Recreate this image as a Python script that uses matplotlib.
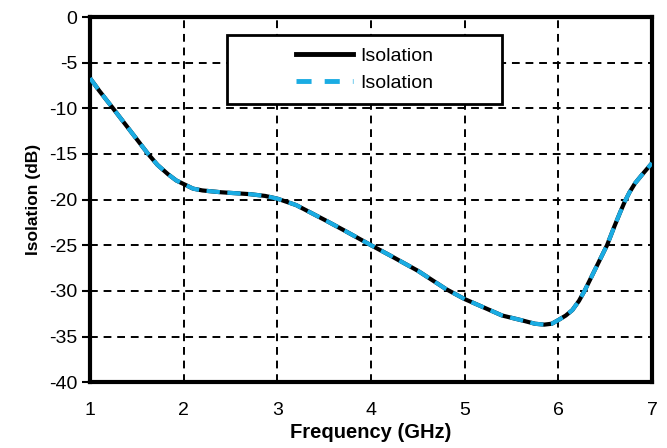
import matplotlib
matplotlib.use("Agg")
import matplotlib.pyplot as plt
from matplotlib.patches import Rectangle
from matplotlib.lines import Line2D

freq = [1.0, 1.1, 1.245, 1.44, 1.62, 1.72, 1.83, 1.92, 2.0, 2.1, 2.2, 2.4, 2.55, 2.7, 2.87, 3.0, 3.2,
        3.5, 3.7, 4.0, 4.2, 4.5, 4.8, 5.0, 5.2, 5.4, 5.6, 5.75, 5.85, 5.93, 6.0, 6.08,
        6.15, 6.22, 6.28, 6.4, 6.52, 6.6, 6.66, 6.71, 6.76, 6.82, 6.9, 7.0]
isolation = [-6.7, -8.1, -10.0, -12.6, -15.0, -16.2, -17.2, -17.9, -18.3, -18.8, -19.0, -19.2, -19.3, -19.4, -19.6, -19.9, -20.6,
             -22.2, -23.3, -25.0, -26.1, -27.8, -29.8, -30.9, -31.8, -32.7, -33.2, -33.6, -33.7, -33.6, -33.2, -32.7,
             -32.1, -31.1, -30.0, -27.5, -25.0, -22.9, -21.4, -20.2, -19.2, -18.2, -17.2, -16.0]
labels = ['Isolation', 'Isolation']
xticks = [1, 2, 3, 4, 5, 6, 7]
yticks = [0, -5, -10, -15, -20, -25, -30, -35, -40]

plt.rcParams['font.family'] = ['Liberation Sans', 'DejaVu Sans']
plt.rcParams['axes.unicode_minus'] = False

fig = plt.figure(figsize=(6.67, 4.48), dpi=100)
ax = fig.add_axes([0.135, 0.147, 0.8425, 0.815])

ax.plot(freq, isolation, color='black', lw=3, label=labels[0], zorder=3)
ax.plot(freq, isolation, color='#1AACE3', lw=3, ls=(0, (3.2, 1.8)), label=labels[1], zorder=4)

ax.set_xlim(1, 7)
ax.set_ylim(-40, 0)
ax.set_xticks(xticks)
ax.set_yticks(yticks)
ax.grid(True, color='black', ls=(0, (4, 3)), lw=1.4)
for s in ax.spines.values():
    s.set_linewidth(3)
ax.tick_params(axis='y', direction='out', length=6, width=1.5, labelsize=14, pad=3)
ax.tick_params(axis='x', length=0, labelsize=14, pad=14.5)
ax.set_xlabel('Frequency (GHz)', fontsize=14.5, fontweight='bold', labelpad=3)
ax.set_ylabel('Isolation (dB)', fontsize=12.5, fontweight='bold', labelpad=6)

x0, x1 = 0.244, 0.733
y0, y1 = 0.7616, 0.9507
ax.add_patch(Rectangle((x0, y0), x1 - x0, y1 - y0, transform=ax.transAxes,
                       facecolor='white', edgecolor='black', lw=2, zorder=5))
handles = [Line2D([], [], color='black', lw=3.5),
           Line2D([], [], color='#1AACE3', lw=3.5, ls=(0, (3.1, 2.7)))]
leg = ax.legend(handles, labels, loc='center', bbox_to_anchor=((x0 + x1) / 2, (y0 + y1) / 2),
                fontsize=14, frameon=False, handlelength=2.9,
                borderpad=0.0, labelspacing=0.45, handletextpad=0.36)
leg.set_zorder(6)

fig.savefig('out.png', dpi=100)
